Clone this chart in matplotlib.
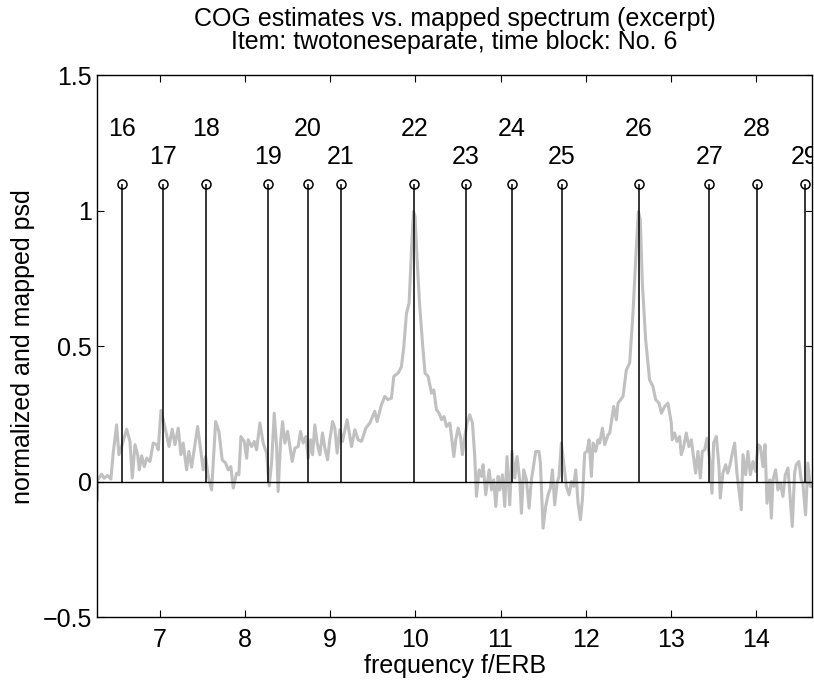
import numpy as np
import matplotlib
matplotlib.use('Agg')
import matplotlib.pyplot as plt

plt.rcParams['font.family'] = ['Liberation Sans', 'DejaVu Sans']
plt.rcParams['axes.unicode_minus'] = True

# COG estimates (stem positions in f/ERB) and their indices
cog_freq = [6.554, 7.035, 7.543, 8.268, 8.740, 9.124, 9.989,
            10.590, 11.130, 11.720, 12.620, 13.450, 14.010, 14.570]
cog_index = list(range(16, 30))

# mapped psd (f/ERB, value)
psd_freq = [6.264, 6.268, 6.315, 6.345, 6.385, 6.424, 6.451, 6.491, 6.518, 6.550,
            6.609, 6.648, 6.675, 6.707, 6.738, 6.757, 6.785, 6.816, 6.844, 6.883,
            6.921, 6.961, 6.980, 7.012, 7.047, 7.079, 7.106, 7.144, 7.176, 7.215,
            7.246, 7.273, 7.313, 7.340, 7.372, 7.411, 7.442, 7.481, 7.508, 7.536,
            7.567, 7.607, 7.654, 7.692, 7.731, 7.771, 7.802, 7.833, 7.860, 7.900,
            7.927, 7.951, 7.990, 8.018, 8.036, 8.076, 8.107, 8.135, 8.174, 8.212,
            8.252, 8.283, 8.311, 8.342, 8.370, 8.388, 8.416, 8.440, 8.467, 8.499,
            8.526, 8.553, 8.585, 8.623, 8.651, 8.682, 8.714, 8.741, 8.769, 8.792,
            8.819, 8.846, 8.878, 8.909, 8.937, 8.968, 8.995, 9.027, 9.054, 9.081,
            9.113, 9.144, 9.198, 9.250, 9.289, 9.327, 9.367, 9.418, 9.465, 9.523,
            9.550, 9.601, 9.640, 9.679, 9.719, 9.746, 9.797, 9.836, 9.864, 9.895,
            9.926, 9.954, 9.977, 9.996, 10.020, 10.051, 10.083, 10.113, 10.149, 10.189,
            10.216, 10.247, 10.278, 10.307, 10.337, 10.365, 10.404, 10.424, 10.451, 10.474,
            10.501, 10.529, 10.552, 10.580, 10.607, 10.638, 10.670, 10.697, 10.717, 10.748,
            10.776, 10.795, 10.826, 10.866, 10.893, 10.920, 10.944, 10.971, 10.991, 11.022,
            11.049, 11.076, 11.108, 11.135, 11.167, 11.194, 11.225, 11.245, 11.272, 11.304,
            11.335, 11.362, 11.389, 11.413, 11.451, 11.468, 11.499, 11.530, 11.558, 11.586,
            11.609, 11.636, 11.663, 11.687, 11.714, 11.742, 11.773, 11.804, 11.832, 11.859,
            11.883, 11.910, 11.938, 11.961, 11.988, 12.015, 12.039, 12.067, 12.086, 12.117,
            12.144, 12.164, 12.196, 12.223, 12.261, 12.282, 12.329, 12.360, 12.379, 12.438,
            12.477, 12.516, 12.555, 12.587, 12.618, 12.641, 12.665, 12.704, 12.750, 12.789,
            12.822, 12.861, 12.889, 12.927, 12.966, 13.005, 13.016, 13.044, 13.071, 13.103,
            13.122, 13.150, 13.181, 13.212, 13.240, 13.268, 13.291, 13.318, 13.346, 13.369,
            13.397, 13.424, 13.455, 13.483, 13.502, 13.534, 13.565, 13.580, 13.611, 13.643,
            13.667, 13.690, 13.722, 13.749, 13.776, 13.800, 13.827, 13.847, 13.878, 13.905,
            13.933, 13.964, 13.995, 14.023, 14.051, 14.082, 14.106, 14.129, 14.160, 14.180,
            14.199, 14.230, 14.257, 14.286, 14.316, 14.344, 14.375, 14.394, 14.426, 14.453,
            14.472, 14.503, 14.531, 14.550, 14.582, 14.609, 14.637, 14.660]
psd_val = [-0.066, 0.007, 0.028, 0.013, 0.023, 0.010, 0.106, 0.210, 0.100, 0.130,
           0.194, 0.149, 0.014, 0.137, 0.100, 0.044, 0.096, 0.056, 0.087, 0.075,
           0.143, 0.137, 0.118, 0.263, 0.217, 0.173, 0.130, 0.194, 0.137, 0.198,
           0.100, 0.143, 0.044, 0.112, 0.054, 0.137, 0.204, 0.112, 0.044, 0.093,
           0.020, -0.030, 0.222, 0.186, 0.081, 0.069, 0.044, 0.056, -0.023, 0.032,
           0.026, 0.167, 0.149, 0.087, 0.155, 0.130, 0.149, 0.118, 0.217, 0.143,
           0.106, -0.015, 0.069, 0.253, 0.130, -0.036, 0.143, 0.222, 0.143, 0.186,
           0.130, 0.075, 0.124, 0.130, 0.186, 0.143, 0.167, 0.087, 0.155, 0.100,
           0.210, 0.143, 0.100, 0.180, 0.124, 0.081, 0.155, 0.222, 0.198, 0.106,
           0.192, 0.149, 0.229, 0.130, 0.192, 0.155, 0.149, 0.198, 0.217, 0.260,
           0.222, 0.284, 0.315, 0.303, 0.309, 0.389, 0.401, 0.425, 0.499, 0.622,
           0.659, 0.856, 0.997, 0.979, 0.819, 0.647, 0.512, 0.401, 0.389, 0.327,
           0.339, 0.266, 0.253, 0.229, 0.241, 0.204, 0.217, 0.167, 0.093, 0.155,
           0.198, 0.167, 0.100, 0.167, 0.217, 0.247, 0.217, 0.093, -0.054, 0.044,
           0.020, 0.063, -0.048, 0.044, -0.030, 0.007, -0.091, 0.020, -0.030, 0.026,
           -0.091, 0.093, -0.085, 0.112, 0.014, 0.093, 0.007, -0.116, 0.044, 0.007,
           -0.097, 0.007, 0.063, 0.112, 0.112, 0.069, -0.171, -0.091, -0.048, -0.023,
           0.044, -0.085, -0.005, 0.020, 0.143, 0.069, -0.017, -0.048, 0.001, -0.017,
           0.044, -0.079, -0.140, -0.066, 0.106, 0.112, 0.155, 0.020, 0.143, 0.112,
           0.155, 0.143, 0.198, 0.137, 0.173, 0.180, 0.278, 0.229, 0.290, 0.315,
           0.413, 0.438, 0.622, 0.819, 0.997, 0.967, 0.733, 0.524, 0.376, 0.352,
           0.303, 0.290, 0.253, 0.278, 0.290, 0.217, 0.155, 0.180, 0.149, 0.167,
           0.100, 0.130, 0.180, 0.130, 0.155, 0.087, 0.032, 0.112, 0.014, 0.112,
           0.118, 0.161, 0.087, -0.042, 0.143, 0.167, 0.056, -0.060, 0.032, 0.063,
           0.032, 0.056, 0.106, 0.143, 0.032, -0.030, -0.103, 0.100, 0.026, 0.112,
           0.026, 0.075, 0.038, 0.137, 0.130, 0.056, 0.137, -0.079, 0.007, -0.134,
           0.007, 0.044, -0.030, -0.005, -0.054, 0.026, 0.051, -0.030, -0.165, 0.032,
           0.063, 0.075, 0.007, -0.005, -0.122, 0.069, -0.017, -0.017]

x_ticks = [7, 8, 9, 10, 11, 12, 13, 14]
y_ticks = [-0.5, 0, 0.5, 1, 1.5]
y_tick_labels = ['\u22120.5', '0', '0.5', '1', '1.5']

fs = 18

fig = plt.figure(figsize=(8.14, 6.82), dpi=100)
ax = fig.add_axes([0.1195, 0.0949, 0.878, 0.7947])

ax.plot(psd_freq, psd_val, color='#c0c0c0', linewidth=2.2, zorder=1)

# stems with open circles at 1.1
stem_h = 1.1
ax.vlines(cog_freq, 0, stem_h, colors='k', linewidth=1.1, zorder=3)
ax.plot(cog_freq, [stem_h] * len(cog_freq), 'o', markersize=6.5,
        markerfacecolor='none', markeredgecolor='k', markeredgewidth=1.1, zorder=4)
ax.axhline(0, color='k', linewidth=1.0, zorder=3)

# index labels, alternating heights; the last one is cut at the axes edge
for f, n in zip(cog_freq, cog_index):
    ypos = 1.3 if n % 2 == 0 else 1.2
    ax.text(f, ypos, str(n), ha='center', va='center', fontsize=fs, clip_on=True)

ax.set_xlim(6.264, 14.657)
ax.set_ylim(-0.5, 1.5)
ax.set_xticks(x_ticks)
ax.set_xticklabels([str(t) for t in x_ticks])
ax.set_yticks(y_ticks)
ax.set_yticklabels(y_tick_labels)
ax.tick_params(direction='in', length=5, width=0.8, top=True, right=True,
               labelsize=fs, pad=4)
ax.tick_params(axis='x', pad=8)
for s in ax.spines.values():
    s.set_linewidth(1.0)

ax.set_xlabel('frequency f/ERB', fontsize=fs, labelpad=1)
ax.set_ylabel('normalized and mapped psd', fontsize=fs, labelpad=5)
ax.set_title('COG estimates vs. mapped spectrum (excerpt)\n'
             'Item: twotoneseparate, time block: No. 6',
             fontsize=fs, linespacing=0.95, pad=19)

fig.savefig('out.png', dpi=100)
